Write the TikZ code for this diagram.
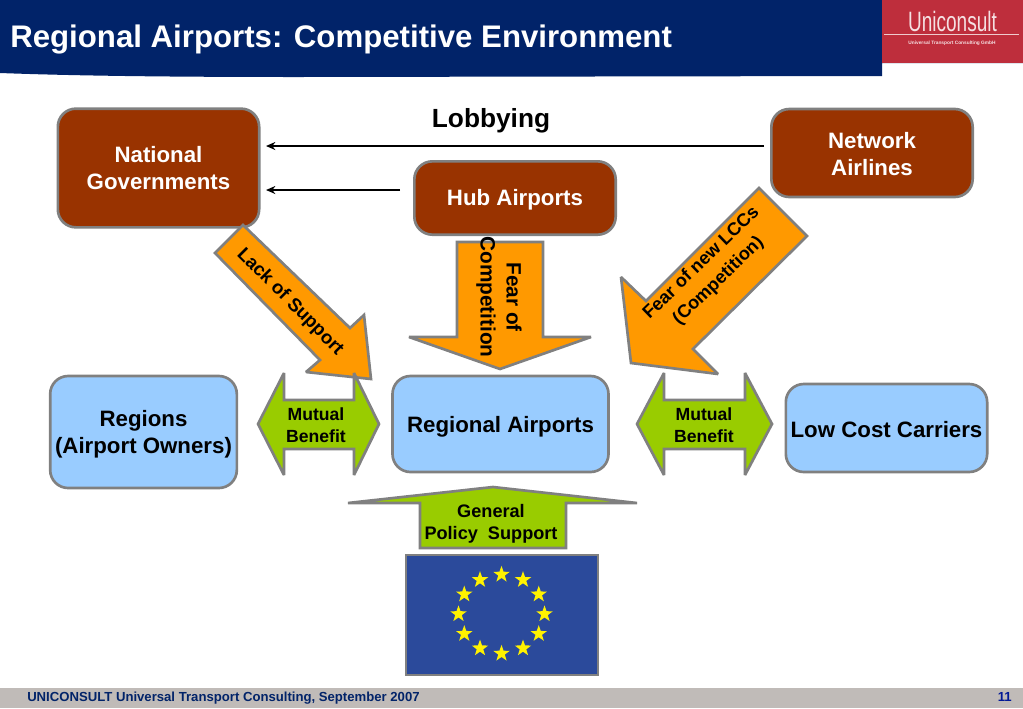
\documentclass[tikz,border=0pt]{standalone}
\usepackage{fontspec}
\setmainfont{Liberation Sans}
\usetikzlibrary{shapes.geometric,arrows.meta}
\definecolor{navy}{HTML}{012369}
\definecolor{logored}{HTML}{BE2E3C}
\definecolor{boxbrown}{HTML}{993300}
\definecolor{boxblue}{HTML}{99CCFF}
\definecolor{edgegray}{HTML}{808080}
\definecolor{arroworange}{HTML}{FF9900}
\definecolor{arrowgreen}{HTML}{99CC00}
\definecolor{flagblue}{HTML}{2B4A9B}
\definecolor{footgray}{HTML}{C0BBB8}
\newcommand{\lowered}[2]{\raisebox{-#1}[\height][\depth]{#2}}
\tikzset{
  x=0.75pt,y=-0.75pt,
  box/.style={draw=edgegray,line width=2pt,rounded corners=13.5pt,inner sep=0pt,align=center,font=\bfseries\fontsize{16.7}{20.2}\selectfont},
  brownbox/.style={box,fill=boxbrown,text=white},
  bluebox/.style={box,fill=boxblue,text=black},
  bigarrow/.style={draw=edgegray,line width=2pt,miter limit=2.5,line join=miter},
  arrowtext/.style={align=center,inner sep=0pt},
  lobbyarrow/.style={-{Stealth[length=7pt,width=6pt]},line width=1.6pt,black},
  eustar/.style={star,star points=5,star point ratio=2.5,fill=yellow,draw=none,minimum size=13pt,inner sep=0pt},
}
\begin{document}
\begin{tikzpicture}
\useasboundingbox (0,0) rectangle (1023,708);
% header
\fill[navy] (0,0) -- (1023,0) -- (1023,63) -- (882,63) -- (882,76) -- (300,77) .. controls (180,77) and (80,76) .. (0,73) -- cycle;
\fill[logored] (882,0) rectangle (1023,63);
\draw[white!75!logored,line width=0.8pt] (884,34.5) -- (1019,34.5);
\node[text=white!85!logored,font=\fontsize{21}{23}\selectfont,inner sep=0pt,xscale=0.68] (logo) at (952.5,21) {Uniconsult};
\node[text=white!85!logored,font=\bfseries\fontsize{3.6}{4}\selectfont,inner sep=0pt] (logosub) at (952,43.5) {Universal Transport Consulting GmbH};
\node[anchor=west,text=white,font=\bfseries\fontsize{23.4}{27}\selectfont,inner sep=0pt] (title) at (10,39.5) {Regional Airports: Competitive Environment};
% footer
\fill[footgray] (0,688) rectangle (1023,708);
\node[anchor=west,text=navy,font=\bfseries\fontsize{9.85}{11}\selectfont,inner sep=0pt] (foot) at (27,698) {UNICONSULT Universal Transport Consulting, September 2007};
\node[anchor=east,text=navy!70!blue,font=\bfseries\fontsize{9.85}{11}\selectfont,inner sep=0pt] (page) at (1012,697) {11};
% brown boxes
\node[brownbox,minimum width=151pt,minimum height=89pt] (natgov) at (158.5,168) {National\\Governments};
\node[brownbox,minimum width=151pt,minimum height=66pt] (network) at (872,153) {\lowered{0.7pt}{Network}\\\lowered{0.7pt}{Airlines}};
\node[brownbox,minimum width=151pt,minimum height=55pt] (hub) at (515,198) {\lowered{1.5pt}{Hub Airports}};
% blue boxes
\node[bluebox,minimum width=140pt,minimum height=84pt] (regions) at (143.5,432) {\lowered{1.5pt}{Regions}\\\lowered{1.5pt}{(Airport Owners)}};
\node[bluebox,minimum width=162pt,minimum height=72pt] (regair) at (500.5,424) {\lowered{2pt}{Regional Airports}};
\node[bluebox,minimum width=151pt,minimum height=66pt] (lcc) at (886.5,428) {\lowered{1pt}{Low Cost Carriers}};
% lobbying
\node[font=\bfseries\fontsize{19.7}{22}\selectfont,inner sep=0pt] (lobby) at (491,121) {Lobbying};
\coordinate (netend) at (764,146);
\coordinate (govend1) at (266,146);
\coordinate (hubend) at (400,190);
\coordinate (govend2) at (266,190);
\draw[lobbyarrow] (netend) -- (govend1);
\draw[lobbyarrow] (hubend) -- (govend2);
% orange arrows
\draw[bigarrow,fill=arroworange] (243,225) -- (215,253) -- (320,360) -- (306,372) -- (371,379) -- (364,315) -- (350,328) -- cycle;
\node[arrowtext,rotate=-45,font=\bfseries\fontsize{14}{17}\selectfont] (lack) at (290,302) {Lack of Support};
\draw[bigarrow,fill=arroworange] (457,242) -- (543,242) -- (543,337) -- (591,337) -- (500,369) -- (409,337) -- (457,337) -- cycle;
\node[arrowtext,rotate=-90,font=\bfseries\fontsize{15.6}{19.5}\selectfont] (fearc) at (499,297) {Fear of\\Competition};
\draw[bigarrow,fill=arroworange] (759,188) -- (807,236) -- (693,349) -- (718,374) -- (631,363) -- (621,277) -- (646,301) -- cycle;
\node[arrowtext,rotate=44,font=\bfseries\fontsize{13.6}{18.5}\selectfont] (fearl) at (710,272) {Fear of new LCCs\\(Competition)};
% green arrows
\draw[bigarrow,fill=arrowgreen] (258,424) -- (284,373) -- (284,400) -- (354,400) -- (354,373) -- (379,424) -- (354,475) -- (354,449) -- (284,449) -- (284,475) -- cycle;
\node[arrowtext,font=\bfseries\fontsize{13.2}{16.2}\selectfont] (mb1) at (316,425) {Mutual\\Benefit};
\draw[bigarrow,fill=arrowgreen] (637,424) -- (664,373) -- (664,400) -- (745,400) -- (745,373) -- (772,424) -- (745,475) -- (745,449) -- (664,449) -- (664,475) -- cycle;
\node[arrowtext,font=\bfseries\fontsize{13.2}{16.2}\selectfont] (mb2) at (704,425) {Mutual\\Benefit};
\draw[bigarrow,fill=arrowgreen] (348,503) -- (493,487) -- (637,503) -- (566,503) -- (566,548) -- (420,548) -- (420,503) -- cycle;
\node[arrowtext,font=\bfseries\fontsize{13.6}{16.5}\selectfont] (gps) at (491,524) {General\\Policy\ \ Support};
% flag
\draw[draw=edgegray,line width=2pt,fill=flagblue] (406,555) rectangle (598,675);
\foreach \a in {0,30,...,330}{
  \node[eustar] at ({501.5+43*sin(\a)},{614-39.5*cos(\a)}) {};
}
\end{tikzpicture}
\end{document}
